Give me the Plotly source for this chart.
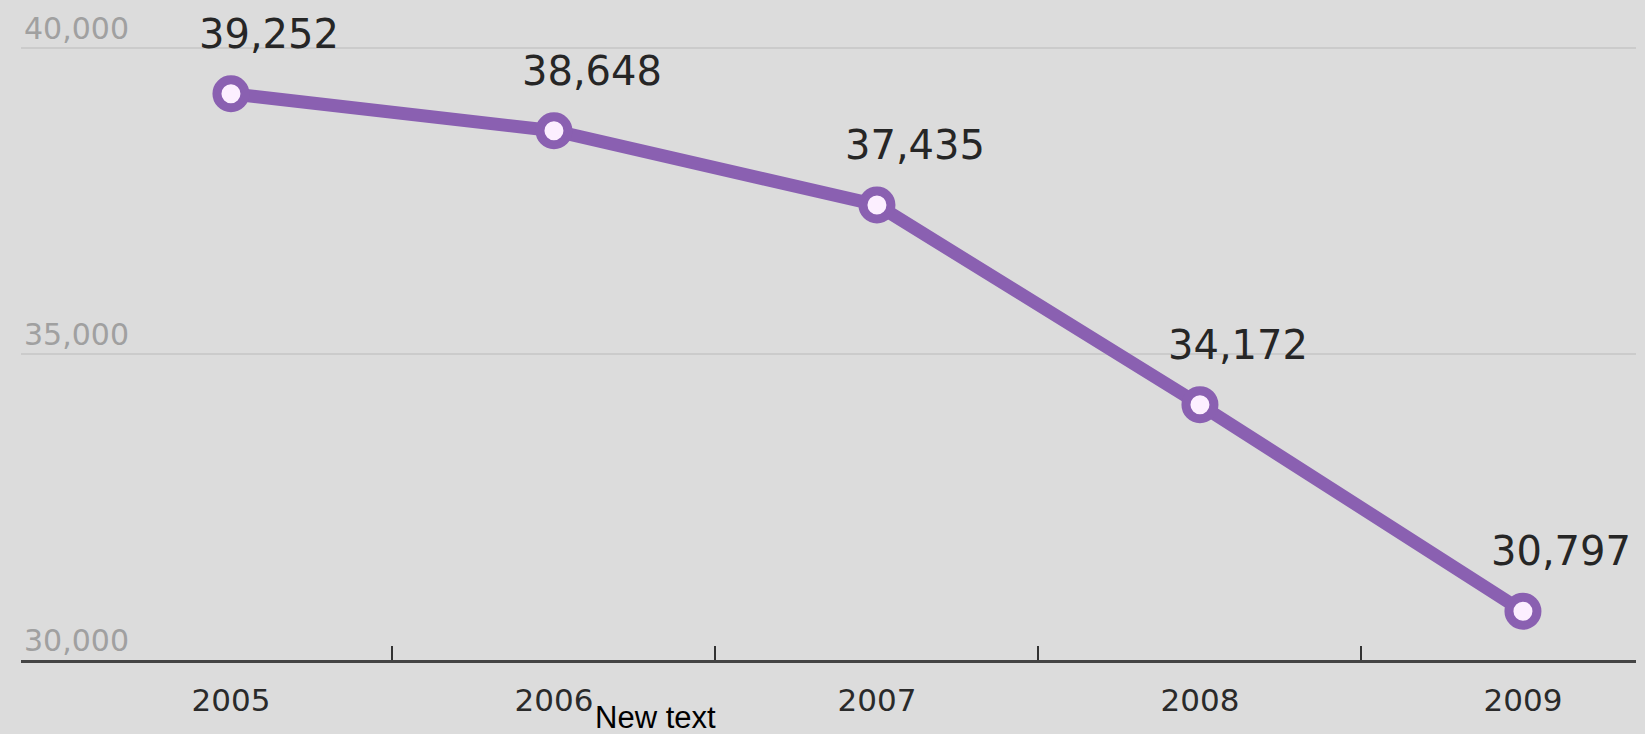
import plotly.graph_objects as go

years = ["2005", "2006", "2007", "2008", "2009"]
values = [39252, 38648, 37435, 34172, 30797]
y_ticks = [30000, 35000, 40000]
y_tick_labels = ["30,000", "35,000", "40,000"]
note_text = "New text"

BG = "#dcdcdc"
PURPLE = "#8a60b1"

xs = list(range(len(years)))

fig = go.Figure()
fig.add_trace(go.Scatter(
    x=xs, y=values, mode="lines+markers",
    line=dict(color=PURPLE, width=13),
    marker=dict(size=28, color="#fcefff", line=dict(color=PURPLE, width=9)),
    hoverinfo="skip", showlegend=False, cliponaxis=False,
))

annotations = []
for x, v in zip(xs, values):
    annotations.append(dict(
        x=x, y=v, xref="x", yref="y", text=f"{v:,}", showarrow=False,
        xanchor="center", yanchor="middle", xshift=38, yshift=60,
        font=dict(family="DejaVu Sans", size=40, color="#262626"),
    ))
for v, lab in zip(y_ticks, y_tick_labels):
    annotations.append(dict(
        x=0, y=v, xref="paper", yref="y", text=lab, showarrow=False,
        xanchor="left", yanchor="bottom", xshift=1,
        font=dict(family="DejaVu Sans", size=30, color="#a0a0a0"),
    ))
annotations.append(dict(
    x=0.354, y=-0.116, xref="paper", yref="paper", text=note_text, showarrow=False,
    xanchor="left", yanchor="bottom",
    font=dict(family="Liberation Sans", size=31, color="#000000"),
))

fig.update_layout(
    width=1645, height=734,
    margin=dict(l=21, r=9, t=0, b=74),
    paper_bgcolor=BG, plot_bgcolor=BG,
    annotations=annotations,
    xaxis=dict(
        type="linear", range=[-0.65, 4.35],
        tickvals=xs, ticktext=years, ticks="",
        tickfont=dict(family="DejaVu Sans", size=31, color="#2a2a2a"),
        ticklabelstandoff=11,
        showgrid=False, zeroline=False,
        showline=True, linecolor="#444444", linewidth=3,
        minor=dict(tickvals=[0.5, 1.5, 2.5, 3.5], ticks="inside", ticklen=14,
                   tickwidth=2, tickcolor="#333333", showgrid=False),
        fixedrange=True,
    ),
    yaxis=dict(
        range=[30000, 40784], tickvals=y_ticks, showticklabels=False,
        showgrid=True, gridcolor="#cbcbcb", gridwidth=2, zeroline=False,
        fixedrange=True,
    ),
)

fig.write_html("out.html", config={"displayModeBar": False})
